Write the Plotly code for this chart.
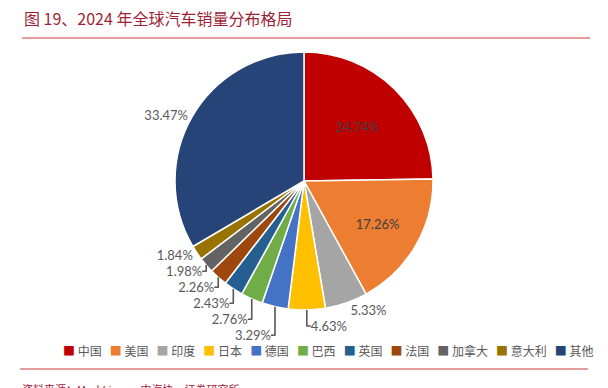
import plotly.graph_objects as go

countries = ["中国", "美国", "印度", "日本", "德国", "巴西", "英国", "法国", "加拿大", "意大利", "其他"]
shares = [24.74, 17.26, 5.33, 4.63, 3.29, 2.76, 2.43, 2.26, 1.98, 1.84, 33.47]
colors = ["#C00000", "#ED7D31", "#A5A5A5", "#FFC000", "#4472C4", "#70AD47",
          "#255E91", "#9E480E", "#636363", "#997300", "#264478"]
title_text = "图 19、2024 年全球汽车销量分布格局"
source_text = "资料来源：MarkLines，中汽协，证券研究所"

W, H = 608, 388
cx, cy, R = 304, 181, 129

textpos = ["inside", "inside"] + ["outside"] * 9

fig = go.Figure(go.Pie(
    labels=countries,
    values=shares,
    sort=False,
    direction="clockwise",
    rotation=0,
    marker=dict(colors=colors, line=dict(color="white", width=1.5)),
    texttemplate="%{value:.2f}%",
    textposition=textpos,
    insidetextorientation="horizontal",
    outsidetextfont=dict(family="Lato", size=13, color="#595959"),
    insidetextfont=dict(family="Lato", size=13, color="#404040"),
    hoverinfo="label+value",
    showlegend=False,
    domain=dict(x=[(cx - R) / W, (cx + R) / W],
                y=[(H - cy - R) / H, (H - cy + R) / H]),
))

sep = "&nbsp;" * 3
legend_text = sep.join(
    f'<span style="color:{c}">■</span>&nbsp;{n}' for n, c in zip(countries, colors)
)

fig.update_layout(
    width=W, height=H,
    margin=dict(l=0, r=0, t=0, b=0),
    paper_bgcolor="white",
    plot_bgcolor="white",
    font=dict(family="Noto Sans CJK SC", color="#595959"),
    annotations=[
        dict(text=title_text, x=22 / W, y=1 - 18 / H, xref="paper", yref="paper",
             xanchor="left", yanchor="middle", showarrow=False,
             font=dict(family="Noto Sans CJK SC", size=16, color="#9E1F36")),
        dict(text=legend_text, x=329 / W, y=1 - 350 / H, xref="paper", yref="paper",
             xanchor="center", yanchor="middle", showarrow=False,
             font=dict(family="Noto Sans CJK SC", size=12, color="#595959")),
        dict(text=source_text, x=20 / W, y=1 - 389 / H, xref="paper", yref="paper",
             xanchor="left", yanchor="middle", showarrow=False,
             font=dict(family="Noto Sans CJK SC", size=11, color="#A0203A")),
    ],
    shapes=[
        dict(type="line", xref="paper", yref="paper", x0=22 / W, x1=590 / W,
             y0=1 - 38 / H, y1=1 - 38 / H, line=dict(color="#D03A3A", width=1)),
        dict(type="line", xref="paper", yref="paper", x0=20 / W, x1=588 / W,
             y0=1 - 369 / H, y1=1 - 369 / H, line=dict(color="#D03A3A", width=1)),
    ],
)

fig.write_html("out.html", config={"displayModeBar": False},
               post_script="document.body.style.margin='0';")
